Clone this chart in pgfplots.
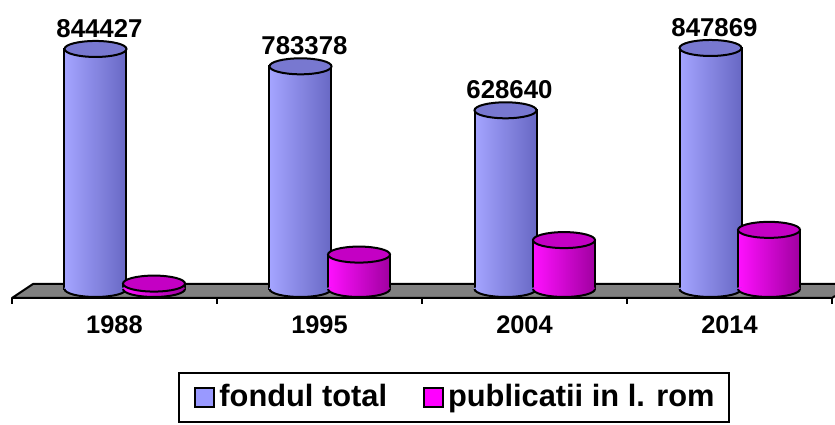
\documentclass[border=0pt]{standalone}
\usepackage{pgfplots}
\pgfplotsset{compat=1.18}
\usepackage{pgfplotstable}
\usepackage{fontspec}
\setmainfont{Liberation Sans}

\definecolor{bL}{HTML}{A4A4FF}
\definecolor{bR}{HTML}{6868C4}
\definecolor{bT}{HTML}{7878D0}
\definecolor{bLeg}{HTML}{9999FF}
\definecolor{pL}{HTML}{FF10FF}
\definecolor{pR}{HTML}{A000A0}
\definecolor{pT}{HTML}{C400C4}
\definecolor{pLeg}{HTML}{FF00FF}
\definecolor{floorc}{HTML}{808080}

\pgfdeclarehorizontalshading{bshade}{100bp}{color(0bp)=(bL); color(25bp)=(bL); color(75bp)=(bR); color(100bp)=(bR)}
\pgfdeclarehorizontalshading{pshade}{100bp}{color(0bp)=(pL); color(25bp)=(pL); color(75bp)=(pR); color(100bp)=(pR)}

\pgfdeclareplotmark{cyltop}{%
  \pgfpathellipse{\pgfpointorigin}{\pgfqpoint{15.5pt}{0pt}}{\pgfqpoint{0pt}{4pt}}%
  \pgfusepathqfillstroke}
\pgfdeclareplotmark{cylbotb}{%
  \pgfpathmoveto{\pgfqpoint{-15.5pt}{0.7pt}}%
  \pgfpathlineto{\pgfqpoint{-15.5pt}{0pt}}%
  \pgfpatharc{180}{360}{15.5pt and 4pt}%
  \pgfpathlineto{\pgfqpoint{15.5pt}{0.7pt}}%
  \pgfpathclose
  \pgfshadepath{bshade}{0}%
  \pgfusepath{discard}%
  \pgfpathmoveto{\pgfqpoint{-15.5pt}{0pt}}%
  \pgfpatharc{180}{360}{15.5pt and 4pt}%
  \pgfusepathqstroke}
\pgfdeclareplotmark{cylbotp}{%
  \pgfpathmoveto{\pgfqpoint{-15.5pt}{0.7pt}}%
  \pgfpathlineto{\pgfqpoint{-15.5pt}{0pt}}%
  \pgfpatharc{180}{360}{15.5pt and 4pt}%
  \pgfpathlineto{\pgfqpoint{15.5pt}{0.7pt}}%
  \pgfpathclose
  \pgfshadepath{pshade}{0}%
  \pgfusepath{discard}%
  \pgfpathmoveto{\pgfqpoint{-15.5pt}{0pt}}%
  \pgfpatharc{180}{360}{15.5pt and 4pt}%
  \pgfusepathqstroke}

\pgfplotstableread{
idx year total rom
0 1988 844427 19000
1 1995 783378 121000
2 2004 628640 172000
3 2014 847869 208000
}\data

\begin{document}
\begin{tikzpicture}
\begin{axis}[
  name=ax,
  scale only axis, width=410pt, height=144pt,
  xmin=-0.5, xmax=3.5, ymin=-31700, ymax=981500,
  clip=false,
  axis x line*=bottom, hide y axis,
  x axis line style={-, line width=1pt},
  xtick={0,1,2,3}, xticklabels={1988,1995,2004,2014},
  minor xtick={-0.5,0.5,1.5,2.5,3.5},
  major tick length=0pt, minor tick length=3pt,
  tick align=outside,
  minor tick style={line width=1pt, black},
  xticklabel style={font=\bfseries\fontsize{12.7}{15}\selectfont, yshift=-5.5pt},
  legend columns=2,
  legend style={at={(0.5396,-0.257)}, anchor=north, draw=black, line width=1pt,
    font=\bfseries\fontsize{15.4}{18}\selectfont, inner xsep=7.5pt, inner ysep=5.8pt,
    nodes={inner sep=0pt},
    /tikz/every odd column/.append style={column sep=2pt},
    /tikz/every even column/.append style={column sep=18pt}},
]
\fill[floorc] (axis cs:-0.5,-31700) -- (axis cs:3.5,-31700) -- (axis cs:3.5146,-24657) -- (axis cs:3.5146,17600) -- (axis cs:-0.3976,17600) -- cycle;
\draw[line width=1pt, line join=round] (axis cs:3.5146,-24657) -- (axis cs:3.5,-31700) -- (axis cs:-0.5,-31700) -- (axis cs:-0.3976,17600) -- (axis cs:3.5146,17600);

\addlegendimage{legend image code/.code={\draw[fill=bLeg, draw=black, line width=1pt] (0pt,-4.75pt) rectangle (9.5pt,4.75pt);}}
\addlegendentry{fondul total}
\addlegendimage{legend image code/.code={\draw[fill=pLeg, draw=black, line width=1pt] (0pt,-4.75pt) rectangle (9.5pt,4.75pt);}}
\addlegendentry{publicatii in l. rom}

\pgfplotsinvokeforeach{0,1,2,3}{
\addplot[ybar, bar width=31pt, bar shift=0pt, left color=bL, right color=bR, draw=black, line width=1pt, forget plot,
  restrict expr to domain={\coordindex}{#1:#1}]
  table[x expr=\coordindex-0.0927, y=total]{\data};
}
\addplot[only marks, mark=cylbotb, mark options={draw=black, line width=1pt, solid}, forget plot]
  table[x expr=\coordindex-0.0927, y expr=0]{\data};
\addplot[only marks, mark=cyltop, mark options={fill=bT, draw=black, line width=1pt, solid}, forget plot,
  point meta=explicit symbolic, nodes near coords,
  every node near coord/.append style={anchor=south, inner sep=0pt, yshift=5.2pt, xshift=2pt,
    font=\bfseries\fontsize{12.9}{15}\selectfont, text=black}]
  table[x expr=\coordindex-0.0927, y=total, meta=total]{\data};

\pgfplotsinvokeforeach{0,1,2,3}{
\addplot[ybar, bar width=31pt, bar shift=0pt, left color=pL, right color=pR, draw=black, line width=1pt, forget plot,
  restrict expr to domain={\coordindex}{#1:#1}]
  table[x expr=\coordindex+0.1927, y=rom]{\data};
}
\addplot[only marks, mark=cylbotp, mark options={draw=black, line width=1pt, solid}, forget plot]
  table[x expr=\coordindex+0.1927, y expr=0]{\data};
\addplot[only marks, mark=cyltop, mark options={fill=pT, draw=black, line width=1pt, solid}, forget plot]
  table[x expr=\coordindex+0.1927, y=rom]{\data};
\end{axis}
\pgfresetboundingbox
\path[use as bounding box] ([xshift=-6pt, yshift=-63.5pt]ax.south west) rectangle ([xshift=1.5pt, yshift=5pt]ax.north east);
\end{tikzpicture}
\end{document}
